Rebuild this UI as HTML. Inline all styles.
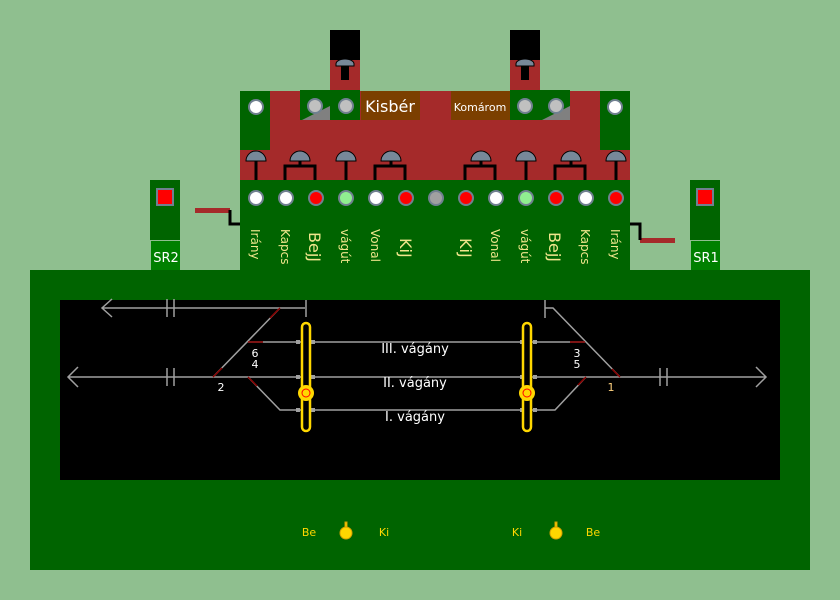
<!DOCTYPE html>
<html><head><style>body{margin:0;background:#8fbf8f}svg{display:block}text{font-family:"DejaVu Sans","Liberation Sans",sans-serif}</style></head><body>
<svg width="840" height="600" xmlns="http://www.w3.org/2000/svg">
<rect width="840" height="600" fill="#8fbf8f"/>
<rect x="30" y="270" width="780" height="300" fill="#006400"/>
<rect x="60" y="300" width="720" height="180" fill="#000"/>
<!-- top panel -->
<rect x="330" y="30" width="30" height="30" fill="#000"/>
<rect x="330" y="60" width="30" height="30" fill="#a52a2a"/>
<rect x="510" y="30" width="30" height="30" fill="#000"/>
<rect x="510" y="60" width="30" height="30" fill="#a52a2a"/>
<g fill="#778899" stroke="#000" stroke-width="1">
<path d="M336,66 h18 v-2 a9,5 0 0 0 -18,0z"/><path d="M516,66 h18 v-2 a9,5 0 0 0 -18,0z"/></g>
<rect x="341" y="66" width="8" height="14" fill="#000"/><rect x="521" y="66" width="8" height="14" fill="#000"/>
<rect x="270" y="91" width="330" height="89" fill="#a52a2a"/>
<rect x="240" y="150" width="390" height="30" fill="#a52a2a"/>
<rect x="240" y="91" width="30" height="59" fill="#006400"/>
<rect x="600" y="91" width="30" height="59" fill="#006400"/>
<rect x="300" y="90" width="60" height="30" fill="#006400"/>
<rect x="510" y="90" width="60" height="30" fill="#006400"/>
<path d="M302,120 L330,106 L330,120Z" fill="#808080"/>
<path d="M542,120 L570,106 L570,120Z" fill="#808080"/>
<rect x="361" y="91" width="59" height="29" fill="#7b3f00"/>
<rect x="451" y="91" width="59" height="29" fill="#7b3f00"/>
<text x="390" y="112" fill="#fff" font-size="16" text-anchor="middle">Kisbér</text>
<text x="480" y="111" fill="#fff" font-size="11" text-anchor="middle">Komárom</text>
<g stroke="#708090" stroke-width="2">
<circle cx="256" cy="107" r="7" fill="#fff"/><circle cx="315" cy="106" r="7" fill="#c0c0c0"/><circle cx="346" cy="106" r="7" fill="#c0c0c0"/>
<circle cx="525" cy="106" r="7" fill="#c0c0c0"/><circle cx="556" cy="106" r="7" fill="#c0c0c0"/><circle cx="615" cy="107" r="7" fill="#fff"/>
</g>
<g fill="#778899" stroke="#000" stroke-width="1">
<path d="M246,161 a10,10 0 0 1 20,0z"/><path d="M290,161 a10,10 0 0 1 20,0z"/><path d="M336,161 a10,10 0 0 1 20,0z"/><path d="M381,161 a10,10 0 0 1 20,0z"/>
<path d="M471,161 a10,10 0 0 1 20,0z"/><path d="M516,161 a10,10 0 0 1 20,0z"/><path d="M561,161 a10,10 0 0 1 20,0z"/><path d="M606,161 a10,10 0 0 1 20,0z"/>
</g>
<g stroke="#000" stroke-width="3" fill="none">
<path d="M256,161 V181"/><path d="M346,161 V181"/><path d="M526,161 V181"/><path d="M616,161 V181"/>
<path d="M285,181 V166 H315 V181 M300,161 V166"/><path d="M375,181 V166 H405 V181 M391,161 V166"/>
<path d="M465,181 V166 H495 V181 M481,161 V166"/><path d="M555,181 V166 H585 V181 M571,161 V166"/>
</g>
<rect x="240" y="180" width="390" height="90" fill="#006400"/>
<g stroke="#708090" stroke-width="2">
<circle cx="256" cy="198" r="7" fill="#fff"/><circle cx="286" cy="198" r="7" fill="#fff"/><circle cx="316" cy="198" r="7" fill="#f00"/>
<circle cx="346" cy="198" r="7" fill="#90ee90"/><circle cx="376" cy="198" r="7" fill="#fff"/><circle cx="406" cy="198" r="7" fill="#f00"/>
<circle cx="436" cy="198" r="7" fill="#a0a0a0"/><circle cx="466" cy="198" r="7" fill="#f00"/><circle cx="496" cy="198" r="7" fill="#fff"/>
<circle cx="526" cy="198" r="7" fill="#90ee90"/><circle cx="556" cy="198" r="7" fill="#f00"/><circle cx="586" cy="198" r="7" fill="#fff"/><circle cx="616" cy="198" r="7" fill="#f00"/>
</g>
<g fill="#f0e68c" font-size="12">
<text transform="translate(251,229) rotate(90)">Irány</text>
<text transform="translate(281,229) rotate(90)">Kapcs</text>
<text transform="translate(309,232) rotate(90)" font-size="16">BejJ</text>
<text transform="translate(341,229) rotate(90)">vágút</text>
<text transform="translate(371,229) rotate(90)">Vonal</text>
<text transform="translate(400,238) rotate(90)" font-size="16">KiJ</text>
<text transform="translate(460,238) rotate(90)" font-size="16">KiJ</text>
<text transform="translate(491,229) rotate(90)">Vonal</text>
<text transform="translate(521,229) rotate(90)">vágút</text>
<text transform="translate(549,232) rotate(90)" font-size="16">BejJ</text>
<text transform="translate(581,229) rotate(90)">Kapcs</text>
<text transform="translate(611,229) rotate(90)">Irány</text>
</g>
<rect x="150" y="180" width="30" height="60" fill="#006400"/>
<rect x="151" y="241" width="29" height="29" fill="#008000"/>
<rect x="157" y="189" width="16" height="16" fill="#f00" stroke="#708090" stroke-width="2"/>
<text x="166" y="262" fill="#fff" font-size="13" text-anchor="middle">SR2</text>
<rect x="195" y="208" width="35" height="5" fill="#a52a2a"/>
<path d="M230,210 V224 H240" stroke="#000" stroke-width="3" fill="none"/>
<rect x="690" y="180" width="30" height="60" fill="#006400"/>
<rect x="691" y="241" width="29" height="29" fill="#008000"/>
<rect x="697" y="189" width="16" height="16" fill="#f00" stroke="#708090" stroke-width="2"/>
<text x="706" y="262" fill="#fff" font-size="13" text-anchor="middle">SR1</text>
<rect x="640" y="238" width="35" height="5" fill="#a52a2a"/>
<path d="M630,224 H640 V240" stroke="#000" stroke-width="3" fill="none"/>
<g stroke="#a0a0a0" stroke-width="1.5" fill="none">
<path d="M102,308 H305 M112,299 L102,308 L112,317 M306,300 V317"/>
<path d="M68,377 H766 M78,367 L68,377 L78,387 M756,367 L766,377 L756,387"/>
<path d="M167,299 V317 M174,299 V317 M167,368 V386 M174,368 V386 M660,368 V386 M667,368 V386"/>
<path d="M213,377 L280,308"/><path d="M248,342 H540"/><path d="M248,377 L280,410 H555 L586,377"/>
<path d="M545,300 V318 M545,308 H553 L620,377"/><path d="M540,342 H585"/>
</g>
<g stroke="#8b0000" stroke-width="1.5">
<path d="M213,377 L222,368 M270,318 L280,308 M248,342 H263 M248,377 L257,386 M570,342 H585 M612,369 L620,377 M586,377 L578,385"/>
</g>
<g fill="#a0a0a0"><rect x="296" y="340" width="4" height="4"/><rect x="311" y="340" width="4" height="4"/><rect x="296" y="375" width="4" height="4"/><rect x="311" y="375" width="4" height="4"/><rect x="296" y="408" width="4" height="4"/><rect x="311" y="408" width="4" height="4"/>
<rect x="520" y="340" width="4" height="4"/><rect x="533" y="340" width="4" height="4"/><rect x="520" y="375" width="4" height="4"/><rect x="533" y="375" width="4" height="4"/><rect x="520" y="408" width="4" height="4"/><rect x="533" y="408" width="4" height="4"/></g>
<g fill="#fff" font-size="13" text-anchor="middle">
<text x="415" y="353">III. vágány</text><text x="415" y="387">II. vágány</text><text x="415" y="421">I. vágány</text>
</g>
<g font-size="11" text-anchor="middle">
<text x="255" y="357" fill="#fff">6</text><text x="255" y="368" fill="#fff">4</text><text x="221" y="391" fill="#fff">2</text>
<text x="577" y="357" fill="#fff">3</text><text x="577" y="368" fill="#fff">5</text><text x="611" y="391" fill="#ffd27f">1</text>
</g>
<g stroke="#ffd700" stroke-width="2.5" fill="#000">
<rect x="302" y="323" width="8" height="108" rx="4"/><rect x="523" y="323" width="8" height="108" rx="4"/>
</g>
<g fill="#ffd700"><circle cx="306" cy="393" r="8"/><circle cx="527" cy="393" r="8"/></g>
<g fill="none" stroke="#f00" stroke-width="1"><circle cx="306" cy="393" r="4"/><circle cx="527" cy="393" r="4"/></g>
<g fill="#ffd700" font-size="11" text-anchor="middle">
<text x="309" y="536">Be</text><text x="384" y="536">Ki</text><text x="517" y="536">Ki</text><text x="593" y="536">Be</text>
</g>
<g fill="#ffd700" stroke="#d4a000" stroke-width="1"><circle cx="346" cy="533" r="6"/><circle cx="556" cy="533" r="6"/>
<rect x="345" y="522" width="2" height="5"/><rect x="555" y="522" width="2" height="5"/></g>
</svg>
</body></html>
